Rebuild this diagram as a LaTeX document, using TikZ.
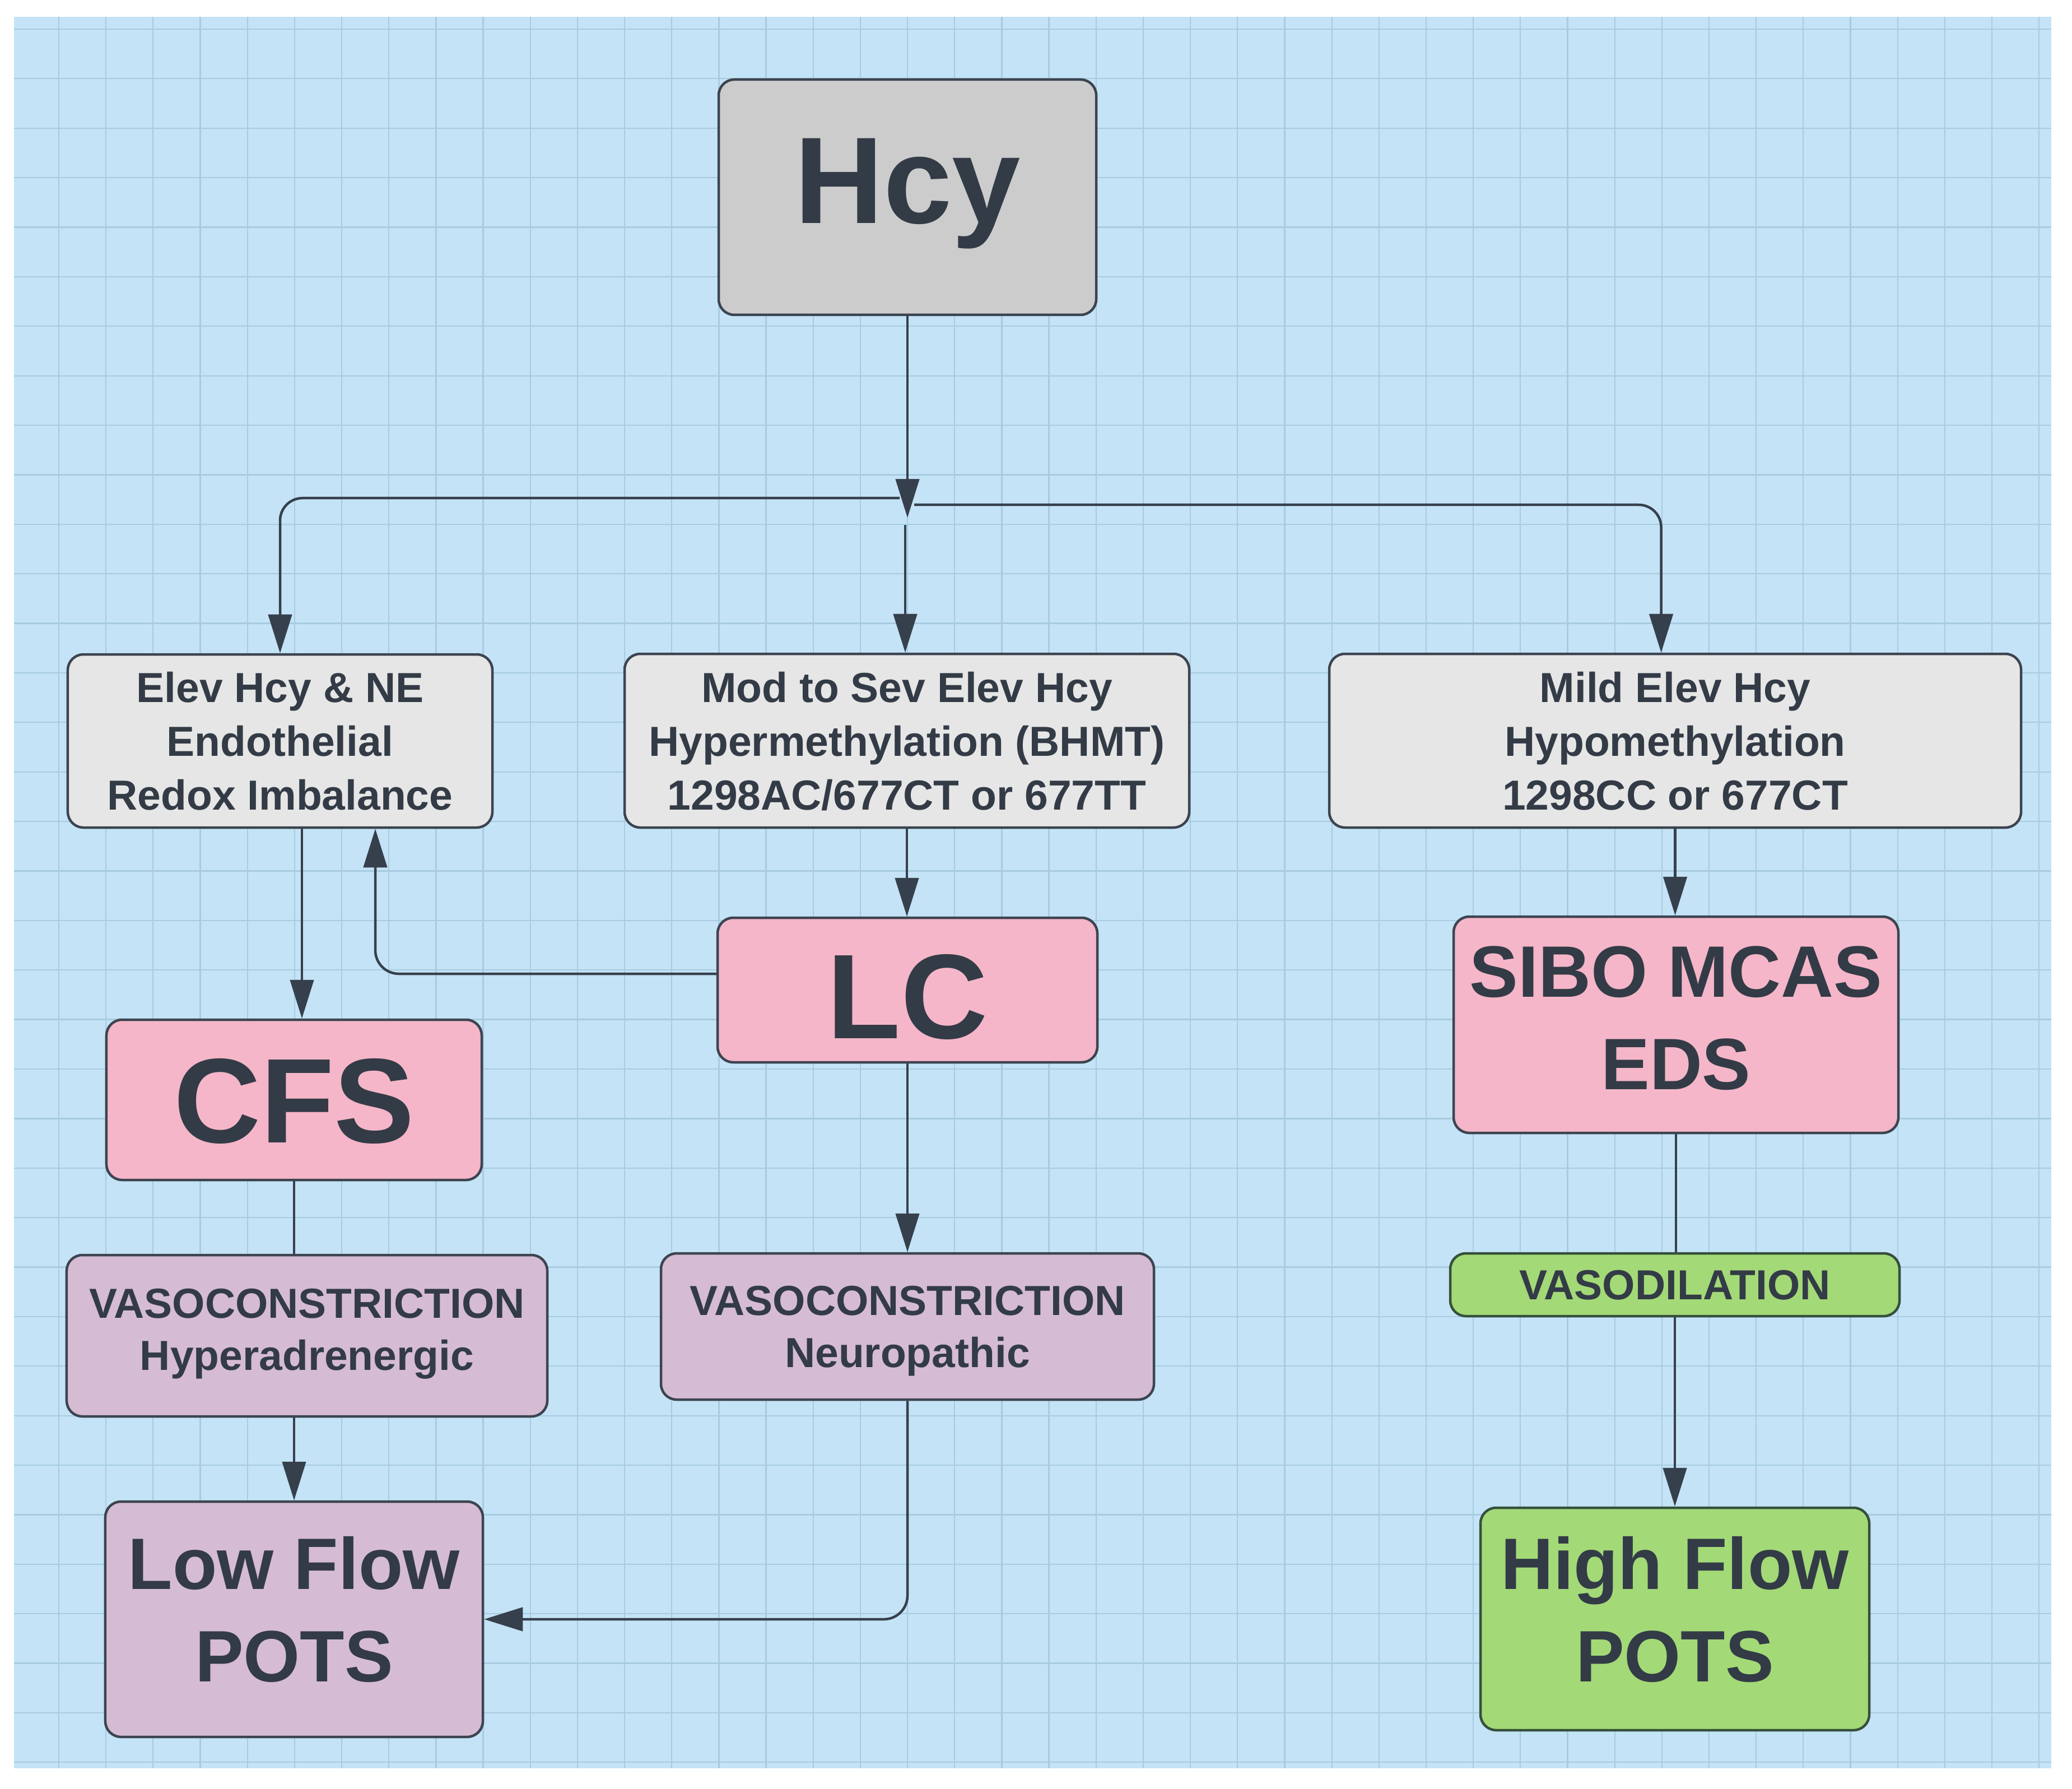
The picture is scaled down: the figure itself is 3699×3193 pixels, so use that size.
\documentclass[tikz,border=0pt]{standalone}
\usepackage{fontspec}
\setmainfont{Liberation Sans}
\usetikzlibrary{arrows.meta}
\definecolor{bgblue}{HTML}{C4E3F6}
\definecolor{gridc}{HTML}{A7CBE0}
\definecolor{hcyfill}{HTML}{CCCCCC}
\definecolor{grayf}{HTML}{E6E6E6}
\definecolor{pinkf}{HTML}{F4B6C8}
\definecolor{mauvef}{HTML}{D5BCD3}
\definecolor{greenf}{HTML}{A3D977}
\definecolor{txtc}{HTML}{333B46}
\definecolor{bordc}{HTML}{3C4450}
\definecolor{gbord}{HTML}{36503C}
\definecolor{linec}{HTML}{36404C}
\begin{document}
\begin{tikzpicture}[x=0.2pt,y=-0.2pt,
  gridline/.style={draw=gridc, line width=0.45pt},
  box/.style={draw=bordc, line width=0.9pt, rounded corners=5.6pt, inner sep=0pt, text=txtc, align=center},
  gbox/.style={box, draw=gbord, fill=greenf},
  conn/.style={draw=linec, line width=0.9pt},
  arr/.style={conn, -{Triangle[length=13.8pt,width=8.4pt]}},
  bigf/.style={font=\fontsize{43pt}{50pt}\selectfont\bfseries},
  medf/.style={font=\fontsize{26pt}{33pt}\selectfont\bfseries},
  smallf/.style={font=\fontsize{15pt}{19.2pt}\selectfont\bfseries},
  vasof/.style={font=\fontsize{15pt}{18.6pt}\selectfont\bfseries}]
\useasboundingbox (0,0) rectangle (3699,3193);
\fill[bgblue] (25,30) rectangle (3662,3156);
\begin{scope}
  \clip (25,30) rectangle (3662,3156);
  \foreach \k in {0,...,42} \draw[gridline] ({105+84.17*\k},30) -- ++(0,3126);
  \foreach \k in {0,...,35} \draw[gridline] (25,{52+88.38*\k}) -- ++(3637,0);
\end{scope}

% nodes
\node[box, fill=hcyfill, minimum width=134.8pt, minimum height=84pt,
      font=\fontsize{44pt}{52pt}\selectfont\bfseries, text depth=11.6pt] (hcy) at (1620,352) {Hcy};

\node[box, fill=grayf, minimum width=151.6pt, minimum height=61.8pt, smallf, text depth=0pt]
  (elev) at (500,1322.5) {Elev Hcy \& NE\\Endothelial\\Redox Imbalance};
\node[box, fill=grayf, minimum width=201.6pt, minimum height=62pt, smallf, text depth=0pt]
  (mod) at (1619,1322) {Mod to Sev Elev Hcy\\Hypermethylation (BHMT)\\1298AC/677CT or 677TT};
\node[box, fill=grayf, minimum width=247pt, minimum height=62pt, smallf, text depth=0pt]
  (mild) at (2990.5,1322) {Mild Elev Hcy\\Hypomethylation\\1298CC or 677CT};

\node[box, fill=pinkf, minimum width=135.6pt, minimum height=51.6pt, bigf,
      text height=34.4pt, text depth=0pt] (lc) at (1620,1767) {LC};
\node[box, fill=pinkf, minimum width=134pt, minimum height=57.2pt, bigf,
      text height=30.6pt, text depth=0pt] (cfs) at (525,1963) {CFS};
\node[box, fill=pinkf, minimum width=158.8pt, minimum height=77.2pt, medf, text depth=4.8pt]
  (sibo) at (2992,1829) {SIBO MCAS\\EDS};

\node[box, fill=mauvef, minimum width=171.6pt, minimum height=57.6pt, vasof, text depth=4.6pt]
  (hyper) at (548,2384) {VASOCONSTRICTION\\Hyperadrenergic};
\node[box, fill=mauvef, minimum width=176pt, minimum height=52.2pt, vasof, text depth=0pt]
  (neuro) at (1620,2367.5) {VASOCONSTRICTION\\Neuropathic};
\node[gbox, minimum width=160.4pt, minimum height=22.4pt, vasof, text depth=0pt]
  (vasod) at (2990,2293) {VASODILATION};

\node[box, fill=mauvef, minimum width=134.8pt, minimum height=84pt, medf, text depth=7.2pt]
  (low) at (525,2890) {Low Flow\\POTS};
\node[gbox, minimum width=138.8pt, minimum height=79.4pt, medf, text depth=7.2pt]
  (high) at (2990,2889.5) {High Flow\\POTS};

% connectors
\coordinate (J) at (1620,924);
\draw[arr] (hcy.south) -- (J);
\coordinate (Lstart) at (1606,889);
\draw[arr, rounded corners=8pt] (Lstart) -| (elev.north);
\coordinate (Rstart) at (1632,901);
\draw[arr, rounded corners=8pt] (Rstart) -| ([xshift=-5pt]mild.north);
\coordinate (Mstart) at (1616,937);
\draw[arr] (Mstart) -- (Mstart |- mod.north);

\draw[arr] (mod.south) -- (mod.south |- lc.north);
\draw[arr] ([xshift=7.8pt]elev.south) -- ([xshift=7.8pt]elev.south |- cfs.north);
\draw[arr, rounded corners=8.4pt] ([yshift=5.8pt]lc.west) -| ([xshift=34pt]elev.south);
\draw[arr] (lc.south) -- (lc.south |- neuro.north);
\draw[conn] (cfs.south) -- (cfs.south |- hyper.north);
\draw[arr] (hyper.south -| low.north) -- (low.north);
\draw[arr, rounded corners=8.4pt] (neuro.south) |- (low.east);
\draw[arr] (mild.south) -- (mild.south |- sibo.north);
\draw[conn] (sibo.south) -- (sibo.south |- vasod.north);
\draw[arr] (vasod.south) -- (high.north);
\end{tikzpicture}
\end{document}
